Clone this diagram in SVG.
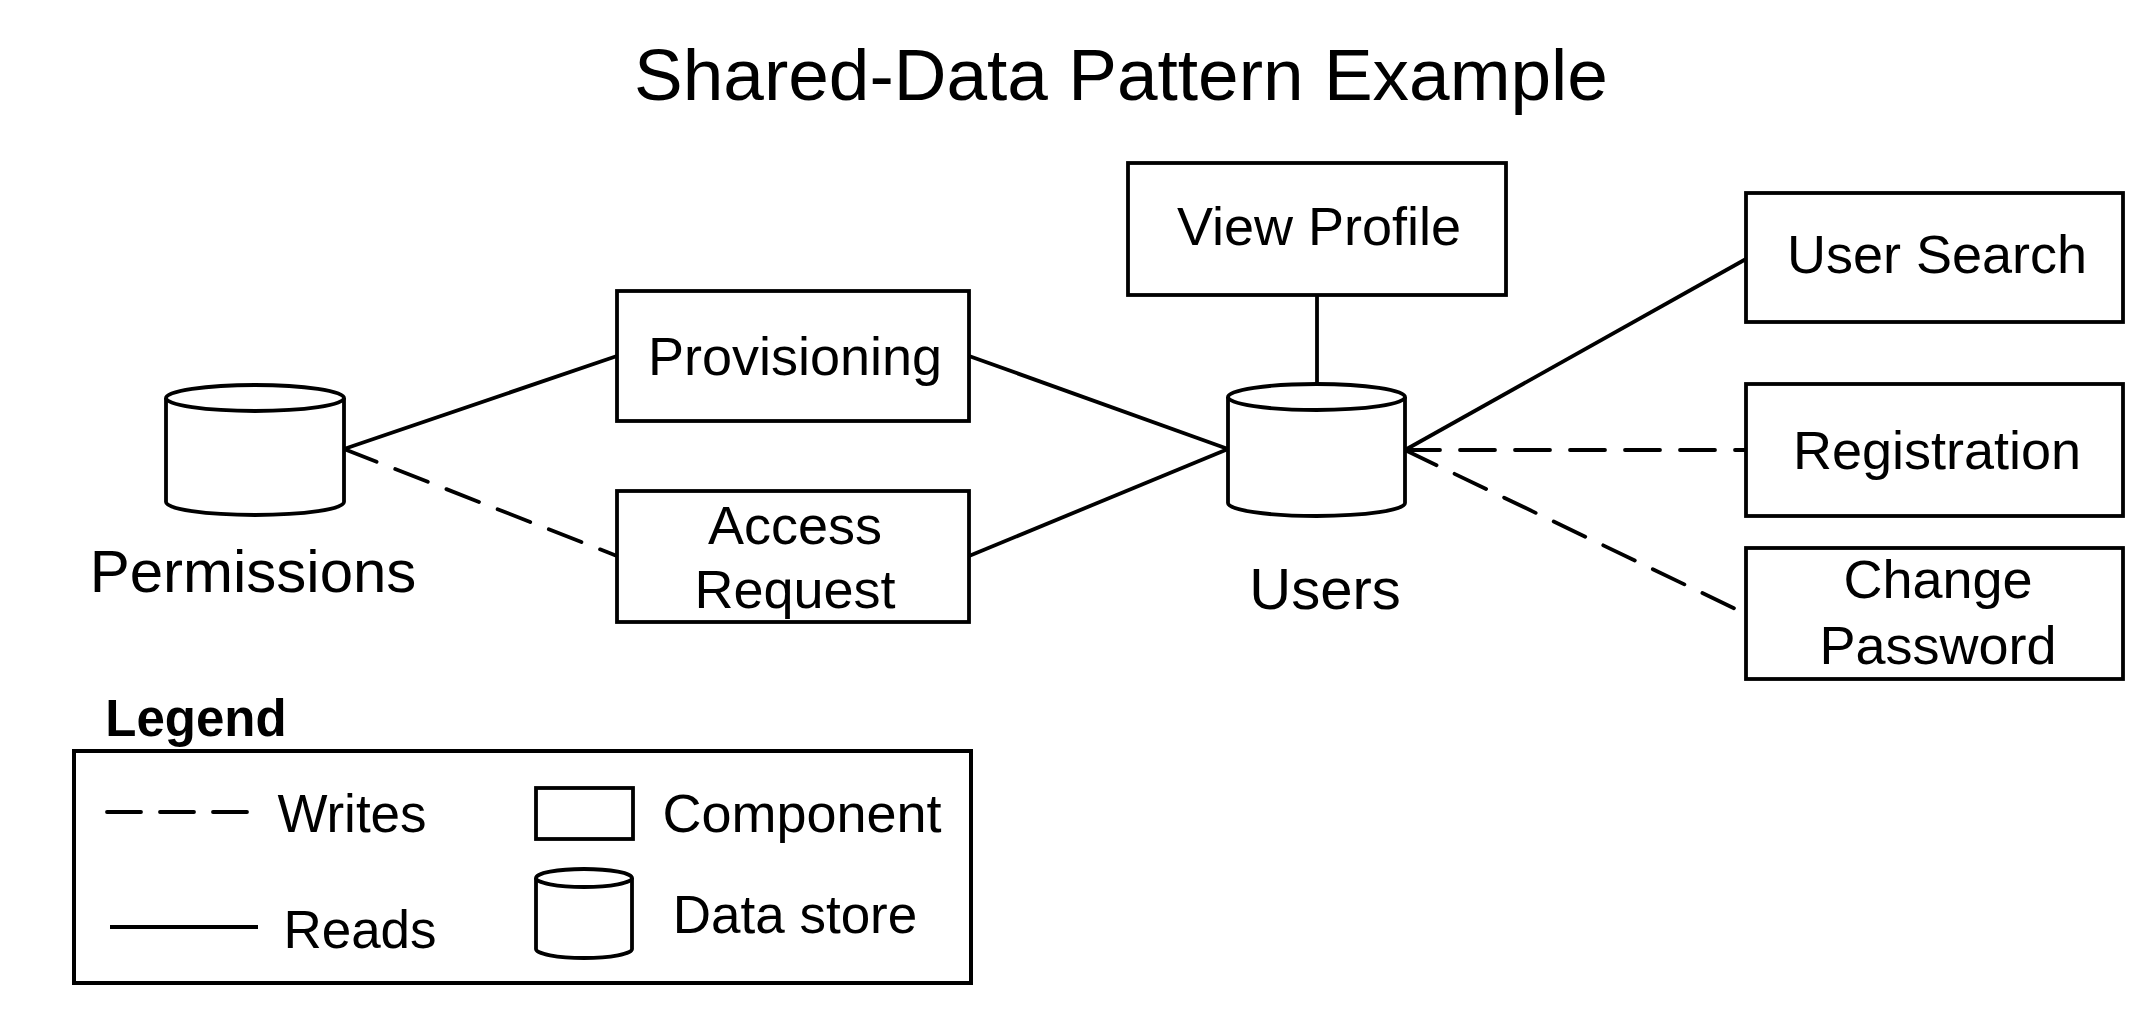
<svg xmlns="http://www.w3.org/2000/svg" width="2156" height="1012" viewBox="0 0 2156 1012">
<style>
text{font-family:"Liberation Sans",Arial,sans-serif;fill:#000;text-anchor:middle}
.box{fill:#fff;stroke:#000;stroke-width:3.8}
.cyl{fill:#fff;stroke:#000;stroke-width:3.8}
.lbl{font-size:54px}
.ext{font-size:58px}
.read{stroke:#000;stroke-width:3.8;fill:none}
.write{stroke:#000;stroke-width:3.8;fill:none;stroke-dasharray:35 20;stroke-linecap:round}
</style>
<rect width="2156" height="1012" fill="#fff"/>
<text x="1121" y="100" style="font-size:73px">Shared-Data Pattern Example</text>

<g id="connectors">
<line class="read" x1="344" y1="449" x2="617" y2="356"/>
<line class="write" x1="344" y1="449" x2="617" y2="556"/>
<line class="read" x1="969" y1="356" x2="1228" y2="449"/>
<line class="read" x1="969" y1="556" x2="1228" y2="449"/>
<line class="read" x1="1317" y1="295" x2="1317" y2="384"/>
<line class="read" x1="1405" y1="450" x2="1746" y2="259"/>
<line class="write" x1="1405" y1="450" x2="1746" y2="450"/>
<line class="write" x1="1405" y1="450" x2="1746" y2="614"/>
</g>

<g id="permissions">
<path class="cyl" d="M166,398 V502 A89,13 0 0 0 344,502 V398"/>
<ellipse class="cyl" cx="255" cy="398" rx="89" ry="13"/>
<text class="ext" x="253" y="592" style="font-size:60px">Permissions</text>
</g>

<g id="provisioning">
<rect class="box" x="617" y="291" width="352" height="130"/>
<text class="lbl" x="795" y="375">Provisioning</text>
</g>

<g id="access-request">
<rect class="box" x="617" y="491" width="352" height="131"/>
<text class="lbl" x="795" y="544">Access</text>
<text class="lbl" x="795" y="608">Request</text>
</g>

<g id="view-profile">
<rect class="box" x="1128" y="163" width="378" height="132"/>
<text class="lbl" x="1319" y="245">View Profile</text>
</g>

<g id="users">
<path class="cyl" d="M1228,397 V503 A88.5,13 0 0 0 1405,503 V397"/>
<ellipse class="cyl" cx="1316.5" cy="397" rx="88.5" ry="13"/>
<text class="ext" x="1325" y="609">Users</text>
</g>

<g id="user-search">
<rect class="box" x="1746" y="193" width="377" height="129"/>
<text class="lbl" x="1937" y="273">User Search</text>
</g>

<g id="registration">
<rect class="box" x="1746" y="384" width="377" height="132"/>
<text class="lbl" x="1937" y="469">Registration</text>
</g>

<g id="change-password">
<rect class="box" x="1746" y="548" width="377" height="131"/>
<text class="lbl" x="1938" y="598">Change</text>
<text class="lbl" x="1938" y="664">Password</text>
</g>

<g id="legend">
<text x="196" y="736" style="font-size:51px;font-weight:bold">Legend</text>
<rect x="74" y="751" width="897" height="232" fill="none" stroke="#000" stroke-width="4"/>
<line class="write" x1="107" y1="812" x2="249" y2="812" style="stroke-dasharray:34 19"/>
<text x="352" y="832" style="font-size:53px">Writes</text>
<line class="read" x1="110" y1="927" x2="258" y2="927"/>
<text x="360" y="948" style="font-size:53px">Reads</text>
<rect class="box" x="536" y="788" width="97" height="51"/>
<text x="802" y="832" style="font-size:54px">Component</text>
<path class="cyl" d="M536,878 V949 A48,9 0 0 0 632,949 V878"/>
<ellipse class="cyl" cx="584" cy="878" rx="48" ry="9"/>
<text x="795" y="933" style="font-size:53px">Data store</text>
</g>
</svg>
